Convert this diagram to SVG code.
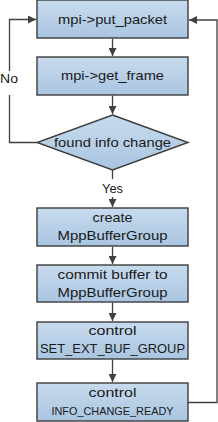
<svg xmlns="http://www.w3.org/2000/svg" width="218" height="422" viewBox="0 0 218 422">
<defs>
<linearGradient id="g" x1="0" y1="0" x2="0" y2="1">
<stop offset="0" stop-color="#c8dbee"/>
<stop offset="1" stop-color="#a9c5e0"/>
</linearGradient>
<marker id="ah" markerWidth="9" markerHeight="8" refX="8" refY="4" orient="auto" markerUnits="userSpaceOnUse">
<path d="M0,0 L8,4 L0,8 Z" fill="#404040"/>
</marker>
</defs>
<style>
.box{fill:url(#g);stroke:#3c3c3c;stroke-width:1.4}
.t{font-family:"Liberation Sans",Arial,sans-serif;font-size:13.5px;fill:#1a1a1a;text-anchor:middle}
.s{font-size:11px}
.c{fill:none;stroke:#404040;stroke-width:1.3}
</style>
<g id="connectors">
<path class="c" d="M112.5,38.5 V56" marker-end="url(#ah)"/>
<path class="c" d="M112.5,95.5 V114" marker-end="url(#ah)"/>
<path class="c" d="M112.5,170 V179"/>
<path class="c" d="M112.5,197 V207" marker-end="url(#ah)"/>
<path class="c" d="M112.5,246.5 V264" marker-end="url(#ah)"/>
<path class="c" d="M112.5,302.5 V321" marker-end="url(#ah)"/>
<path class="c" d="M112.5,359.5 V382" marker-end="url(#ah)"/>
<path class="c" d="M188,402.5 H217 V20 H189" marker-end="url(#ah)"/>
<path class="c" d="M37,142.5 H9.5 V95"/>
<path class="c" d="M9.5,71 V19.5 H36" marker-end="url(#ah)"/>
<text class="t" x="9" y="83" textLength="18" lengthAdjust="spacingAndGlyphs">No</text>
<text class="t" x="112.5" y="193" textLength="21" lengthAdjust="spacingAndGlyphs">Yes</text>
</g>
<g id="n1">
<rect class="box" x="37" y="0" width="151" height="38"/>
<text class="t" x="112.5" y="24" textLength="109" lengthAdjust="spacingAndGlyphs">mpi-&gt;put_packet</text>
</g>
<g id="n2">
<rect class="box" x="37" y="57" width="151" height="38"/>
<text class="t" x="112.5" y="80" textLength="103" lengthAdjust="spacingAndGlyphs">mpi-&gt;get_frame</text>
</g>
<g id="n3">
<polygon class="box" points="112.5,115 188,142.5 112.5,170 37,142.5"/>
<text class="t" x="112.5" y="147" textLength="117" lengthAdjust="spacingAndGlyphs">found info change</text>
</g>
<g id="n4">
<rect class="box" x="37" y="208" width="151" height="38"/>
<text class="t" x="112.5" y="222" textLength="40" lengthAdjust="spacingAndGlyphs">create</text>
<text class="t" x="112.5" y="240" textLength="110" lengthAdjust="spacingAndGlyphs">MppBufferGroup</text>
</g>
<g id="n5">
<rect class="box" x="37" y="265" width="151" height="37"/>
<text class="t" x="112.5" y="278.5" textLength="110" lengthAdjust="spacingAndGlyphs">commit buffer to</text>
<text class="t" x="112.5" y="297" textLength="110" lengthAdjust="spacingAndGlyphs">MppBufferGroup</text>
</g>
<g id="n6">
<rect class="box" x="37" y="322" width="151" height="37"/>
<text class="t" x="112.5" y="335" textLength="48" lengthAdjust="spacingAndGlyphs">control</text>
<text class="t" x="112.5" y="353" textLength="145" lengthAdjust="spacingAndGlyphs">SET_EXT_BUF_GROUP</text>
</g>
<g id="n7">
<rect class="box" x="37" y="383" width="151" height="38"/>
<text class="t" x="112.5" y="397" textLength="48" lengthAdjust="spacingAndGlyphs">control</text>
<text class="t s" x="112.5" y="415" textLength="122" lengthAdjust="spacingAndGlyphs">INFO_CHANGE_READY</text>
</g>
</svg>
